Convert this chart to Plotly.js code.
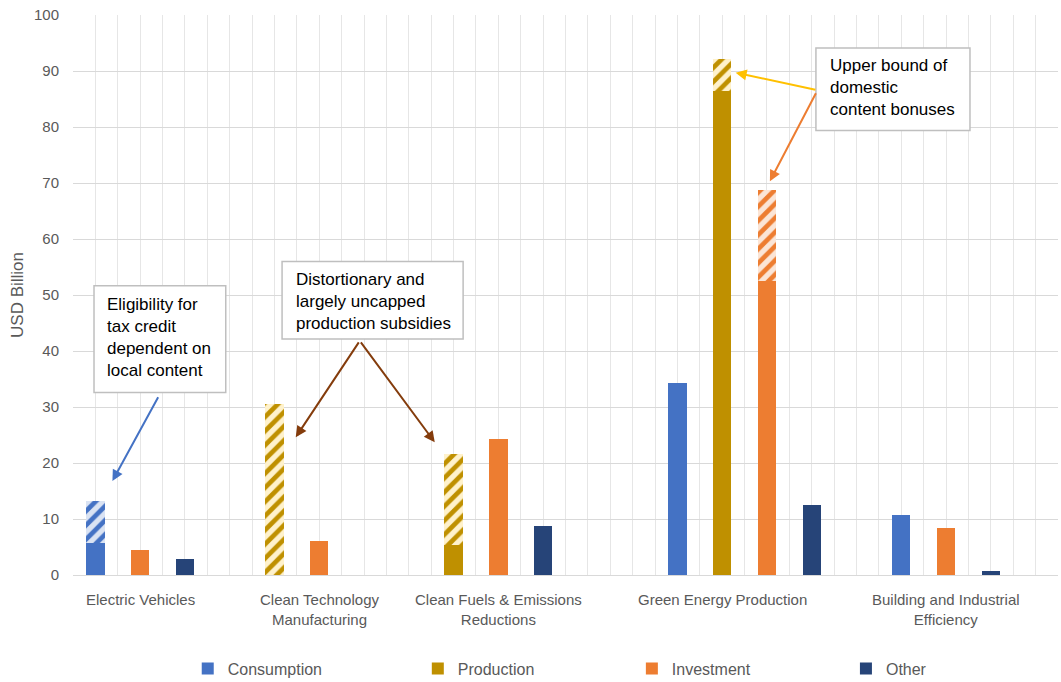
<!DOCTYPE html>
<html>
<head>
<meta charset="utf-8">
<script src="https://cdn.plot.ly/plotly-3.0.1.min.js"></script>
<style>html,body{margin:0;padding:0;background:#fff;}#chart{width:1061px;height:682px;}</style>
</head>
<body>
<div id="chart"></div>
<script>
// ---- data (USD billion) ----
const categories = ["Electric Vehicles", "Clean Technology<br>Manufacturing", "Clean Fuels & Emissions<br>Reductions", "Green Energy Production", "Building and Industrial<br>Efficiency"];
const seriesNames = ["Consumption", "Production", "Investment", "Other"];
const consumption      = [5.7, null, null, 34.3, 10.7];
const consumptionBonus = [7.6, null, null, null, null];
const production       = [null, 0, 5.4, 86.5, null];
const productionBonus  = [null, 30.5, 16.2, 5.7, null];
const investment       = [4.5, 6.1, 24.2, 52.5, 8.4];
const investmentBonus  = [null, null, null, 16.2, null];
const other            = [2.9, null, 8.7, 12.5, 0.8];
const yTicks = [0,10,20,30,40,50,60,70,80,90,100];

// ---- layout: slot index of each series inside each category ----
const slotConsumption = [0, null, null, 13, 18];
const slotProduction  = [null, 4, 8, 14, null];
const slotInvestment  = [1, 5, 9, 15, 19];
const slotOther       = [2, 6, 10, 16, 20];
const labelSlot       = [1, 5, 9, 14, 19];

const colors = {Consumption:"#4472C4", Production:"#BF9000", Investment:"#ED7D31", Other:"#264478"};
const light  = {Consumption:"#DAE3F3", Production:"#FFF2CC", Investment:"#FBE5D6"};
const legendId = {Consumption:"legend", Production:"legend2", Investment:"legend3", Other:"legend4"};
const font = "Liberation Sans, Arial, sans-serif";
const BW = 0.41;

function pick(vals, slots){
  const x=[], y=[];
  vals.forEach((v,i)=>{ if(v!==null && slots[i]!==null){ x.push(slots[i]); y.push(v);} });
  return {x, y};
}
function solid(name, vals, slots){
  const d = pick(vals, slots);
  return {type:"bar", name, x:d.x, y:d.y, width:BW, legend:legendId[name],
    marker:{color:colors[name], line:{width:0}}, hoverinfo:"y+name"};
}
function hatched(name, vals, slots){
  const d = pick(vals, slots);
  return {type:"bar", name:name+" bonus", x:d.x, y:d.y, width:BW, showlegend:false,
    marker:{color:light[name], line:{width:0},
      pattern:{shape:"/", fgcolor:colors[name], bgcolor:light[name], size:10, solidity:0.47, fillmode:"replace"}},
    hoverinfo:"y+name"};
}

const traces = [
  solid("Consumption", consumption, slotConsumption),
  solid("Production", production, slotProduction),
  solid("Investment", investment, slotInvestment),
  solid("Other", other, slotOther),
  hatched("Consumption", consumptionBonus, slotConsumption),
  hatched("Production", productionBonus, slotProduction),
  hatched("Investment", investmentBonus, slotInvestment)
];

// pixel -> paper helpers for decoration
const L=73.3, R=1058, T=15.3, B=575.3;
const px = v => (v-L)/(R-L);
const py = v => (B-v)/(B-T);

const catAnn = categories.map((c,i)=>({
  x: labelSlot[i], xref:"x", y:0, yref:"paper", yanchor:"top", yshift:-14,
  text:c, showarrow:false, font:{family:font, size:15, color:"#595959"}, align:"center"
}));

function box(x0,x1,y0,y1){
  return {type:"rect", xref:"paper", yref:"paper", x0:px(x0), x1:px(x1), y0:py(y1), y1:py(y0),
    line:{color:"#BFBFBF", width:1.5}, fillcolor:"#FFFFFF", layer:"above"};
}
function boxText(x,y,t){
  return {xref:"paper", yref:"paper", x:px(x), y:py(y), xanchor:"left", yanchor:"top", align:"left",
    text:t, showarrow:false, borderpad:0, font:{family:font, size:17, color:"#000000"}};
}
function arrow(x,y,ax,ay,color){
  return {x, y, xref:"x", yref:"y", ax, ay, axref:"x", ayref:"y", text:"", showarrow:true,
    arrowhead:2, arrowsize:1.1, arrowwidth:2, arrowcolor:color, standoff:0, startstandoff:0};
}

const annotations = [
  ...catAnn,
  boxText(106.7, 294, "Eligibility for<br>tax credit<br>dependent on<br>local content"),
  boxText(295, 269, "Distortionary and<br>largely uncapped<br>production subsidies"),
  boxText(829.3, 55.7, "Upper bound of<br>domestic<br>content bonuses"),
  arrow(0.38, 16.8, 1.42, 32.0, "#4472C4"),
  arrow(4.475, 24.6, 5.905, 41.8, "#843C0C"),
  arrow(7.58, 23.7, 5.905, 41.8, "#843C0C"),
  arrow(14.3, 89.7, 16.115, 86.6, "#FFC000"),
  arrow(15.065, 70.3, 16.11, 86.3, "#ED7D31")
];

function legendAt(xPix){
  return {orientation:"h", x:px(xPix), xanchor:"left", y:py(669), yanchor:"middle",
    itemwidth:30, font:{family:font, size:16, color:"#595959"}, bgcolor:"rgba(0,0,0,0)"};
}

const layout = {
  width:1061, height:682,
  margin:{l:73, r:3, t:15, b:107, autoexpand:false},
  paper_bgcolor:"#FFFFFF", plot_bgcolor:"#FFFFFF",
  barmode:"stack",
  font:{family:font, color:"#595959", size:15},
  xaxis:{range:[-0.5,21.5], tick0:-0.5, dtick:0.5, showgrid:true, gridcolor:"#E6E6E6", gridwidth:1,
    showticklabels:false, zeroline:false, showline:true, linecolor:"#D9D9D9", linewidth:1, ticks:"", fixedrange:true},
  yaxis:{range:[0,100], tickvals:yTicks, showgrid:true, gridcolor:"#D9D9D9", gridwidth:1, zeroline:false,
    showline:false, ticks:"", ticklabelstandoff:13, tickfont:{family:font, size:15, color:"#595959"},
    title:{text:"USD Billion", font:{family:font, size:17, color:"#595959"}, standoff:6}, fixedrange:true},
  legend: legendAt(188),
  legend2: legendAt(418),
  legend3: legendAt(632),
  legend4: legendAt(846),
  shapes:[ box(94.3,226,286,392.7), box(282.3,463.3,261.7,339.3), box(816,970,48.3,130.7) ],
  annotations
};

Plotly.newPlot("chart", traces, layout, {displayModeBar:false, staticPlot:true});
</script>
</body>
</html>
